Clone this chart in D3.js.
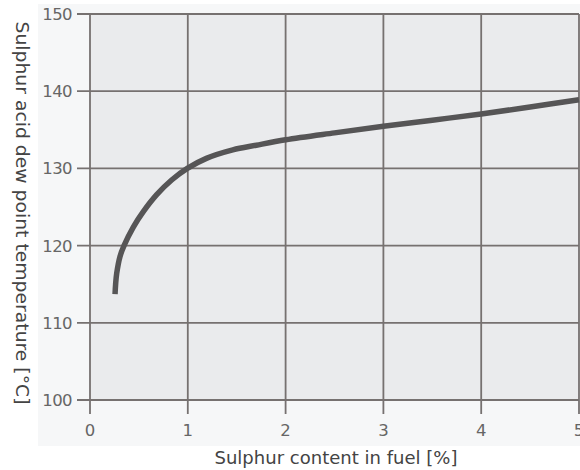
<!DOCTYPE html>
<html><head><meta charset="utf-8">
<script src="https://cdn.jsdelivr.net/npm/d3@7/dist/d3.min.js"></script>
<style>html,body{margin:0;padding:0;background:#fff;}svg{display:block;}</style>
</head><body><svg id="c" width="580" height="470"></svg>
<script>
const sulphur = [0.256, 0.262, 0.273, 0.307, 0.348, 0.443, 0.545, 0.682, 0.835, 0.995, 1.19, 1.46, 1.7, 2.0, 2.5, 3.0, 3.5, 4.0, 4.5, 5.0];
const dewPoint = [113.7, 115.0, 116.4, 118.6, 120.0, 122.4, 124.4, 126.6, 128.5, 130.0, 131.3, 132.4, 133.0, 133.7, 134.6, 135.45, 136.25, 137.05, 137.95, 138.9];
const xTicks = [0, 1, 2, 3, 4, 5];
const yTicks = [100, 110, 120, 130, 140, 150];
const xTitle = "Sulphur content in fuel [%]";
const yTitle = "Sulphur acid dew point temperature [°C]";

const svg = d3.select("#c");
const m = {left: 90, right: 579, top: 14, bottom: 400};
const x = d3.scaleLinear().domain([0, 5]).range([m.left, m.right]);
const y = d3.scaleLinear().domain([100, 150]).range([m.bottom, m.top]);
const font = "'DejaVu Sans', Verdana, sans-serif";
const gridColor = "#767170";

// faint outer panel
svg.append("rect").attr("x", 38).attr("y", 4).attr("width", 542).attr("height", 442).attr("fill", "#f6f7f8");
// plot background
svg.append("rect").attr("x", m.left).attr("y", m.top).attr("width", m.right - m.left).attr("height", m.bottom - m.top).attr("fill", "#eaebed");

// horizontal grid + ticks
svg.append("g").selectAll("line").data(yTicks).join("line")
  .attr("x1", m.left - 13).attr("x2", m.right)
  .attr("y1", d => y(d)).attr("y2", d => y(d))
  .attr("stroke", gridColor).attr("stroke-width", 1.8);
// vertical grid + ticks
svg.append("g").selectAll("line").data(xTicks).join("line")
  .attr("x1", d => x(d)).attr("x2", d => x(d))
  .attr("y1", m.top).attr("y2", m.bottom + 14)
  .attr("stroke", gridColor).attr("stroke-width", 1.8);

// tick labels
svg.append("g").selectAll("text").data(yTicks).join("text")
  .attr("x", 72).attr("y", d => y(d) + 6)
  .attr("text-anchor", "end").attr("font-family", font).attr("font-size", 16.5)
  .attr("letter-spacing", -0.6).attr("fill", "#666").text(d => d);
svg.append("g").selectAll("text").data(xTicks).join("text")
  .attr("x", d => x(d)).attr("y", 436)
  .attr("text-anchor", "middle").attr("font-family", font).attr("font-size", 16.5)
  .attr("fill", "#666").text(d => d);

// axis titles
svg.append("text").attr("x", 336).attr("y", 464).attr("text-anchor", "middle")
  .attr("font-family", font).attr("font-size", 17).attr("fill", "#444")
  .attr("textLength", 243).attr("lengthAdjust", "spacingAndGlyphs").text(xTitle);
svg.append("text").attr("transform", "translate(16,213) rotate(90)").attr("text-anchor", "middle")
  .attr("font-family", font).attr("font-size", 17).attr("fill", "#444")
  .attr("textLength", 383).attr("lengthAdjust", "spacingAndGlyphs").text(yTitle);

// curve
const pts = sulphur.map((s, i) => [s, dewPoint[i]]);
const line = d3.line().x(d => x(d[0])).y(d => y(d[1])).curve(d3.curveCatmullRom.alpha(0.5));
svg.append("path").datum(pts).attr("d", line).attr("fill", "none")
  .attr("stroke", "#565556").attr("stroke-width", 5.5).attr("stroke-linecap", "butt");
</script></body></html>
